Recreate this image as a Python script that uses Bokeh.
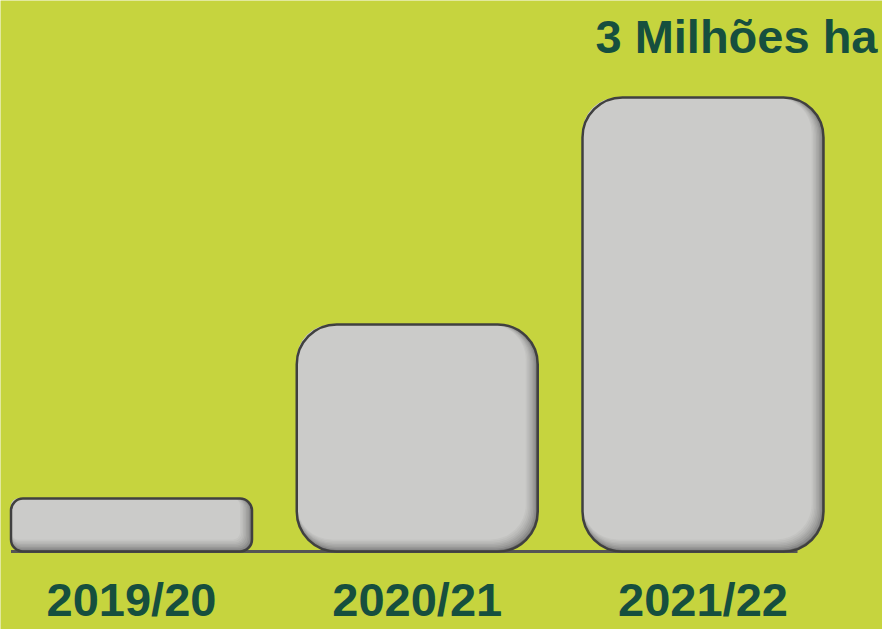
import numpy as np
from bokeh.plotting import figure
from bokeh.models import Range1d, Label
from bokeh.core.properties import value
from bokeh.embed import file_html
from bokeh.resources import INLINE

# ---- data ----
categories = ["2019/20", "2020/21", "2021/22"]
area_mha = [0.35, 1.5, 3.0]          # million hectares
headline = "3 Milhões ha"

# ---- style ----
BG = "#C6D43E"
TXT = "#164F3E"
FILL = "#CBCBC9"
EDGE = "#404040"
SHADE = "#707070"
BASE = "#555555"
FONT = "Liberation Sans"

W, H = 882, 629
x_start = -131 / 285.75
x_end = x_start + W / 285.75
y_start, y_end = -(629 - 551) / 151.33, 3 + 97 / 151.33
px_x = W / (x_end - x_start)
px_y = H / (y_end - y_start)
bar_w = 241 / 285.75


def blend(c1, c2, t):
    a = [int(c1[i:i + 2], 16) for i in (1, 3, 5)]
    b = [int(c2[i:i + 2], 16) for i in (1, 3, 5)]
    return "#%02x%02x%02x" % tuple(int(round(a[j] + (b[j] - a[j]) * t)) for j in range(3))


p = figure(width=W, height=H,
           x_range=Range1d(x_start, x_end), y_range=Range1d(y_start, y_end),
           output_backend="svg", toolbar_location=None,
           x_axis_location=None, y_axis_location=None,
           min_border=0, background_fill_color=BG, border_fill_color=BG,
           outline_line_color=None)
p.grid.visible = False

xs = np.arange(len(categories))

# baseline
p.segment(x0=[xs[0] - bar_w / 2], y0=[0], x1=[xs[-1] + bar_w / 2 - 0.091], y1=[0],
          line_color=BASE, line_width=3)

# bars with inner shadow on right / bottom
N = 8
for x, v in zip(xs, area_mha):
    left, right = x - bar_w / 2, x + bar_w / 2
    h_px = v * px_y
    r = int(round(min(40.0, 0.22 * h_px)))
    p.quad(left=[left], right=[right], bottom=[0], top=[v],
           fill_color=SHADE, line_color=None, border_radius=r)
    for k in range(1, N + 1):
        t = (k / N) ** 0.6
        d = k * 1.5
        p.quad(left=[left], right=[right - d / px_x], bottom=[d / px_y], top=[v],
               fill_color=blend(SHADE, FILL, t), line_color=None,
               border_radius=int(max(round(r - d * 0.4), 2)))
    p.quad(left=[left], right=[right], bottom=[0], top=[v],
           fill_color=None, line_color=EDGE, line_width=2.5, border_radius=r)

# category labels under the baseline
p.text(x=xs, y=[0] * len(categories), text=categories,
       text_align="center", text_baseline="alphabetic", y_offset=48,
       text_font=value(FONT), text_font_style="bold", text_font_size="47px",
       text_color=TXT)

# headline
p.add_layout(Label(x=W - 5, y=H - 52 + 16, x_units="screen", y_units="screen",
                   text=headline, text_align="right", text_baseline="alphabetic",
                   text_font=FONT, text_font_style="bold", text_font_size="47px",
                   text_color=TXT))

open("out.html", "w").write(file_html(p, INLINE))
